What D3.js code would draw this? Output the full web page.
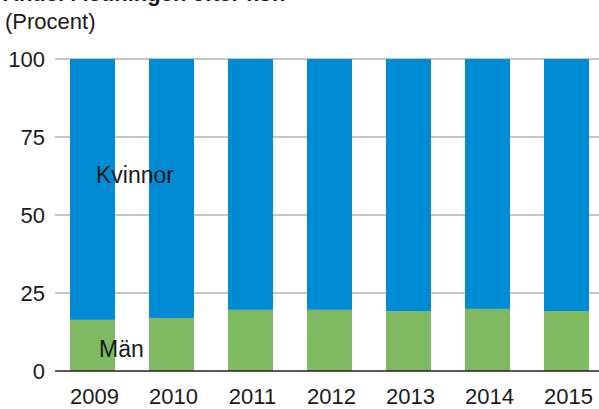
<!DOCTYPE html>
<html><head><meta charset="utf-8">
<script src="https://cdn.jsdelivr.net/npm/d3@7"></script>
<style>
body{margin:0;background:#fff;}
svg{display:block;font-family:"Liberation Sans",Arial,sans-serif;}
</style></head>
<body>
<svg id="chart" width="599" height="409"></svg>
<script>
const years = ["2009","2010","2011","2012","2013","2014","2015"];
const man = [16.4, 17.0, 19.6, 19.6, 19.2, 19.9, 19.2];
const kvinnor = [83.6, 83.0, 80.4, 80.4, 80.8, 80.1, 80.8];
const yTicks = [0, 25, 50, 75, 100];
const seriesNames = ["Män", "Kvinnor"];
const colors = ["#7fb961", "#008cd4"];

const svg = d3.select("#chart");
const x = d3.scaleBand().domain(years).range([53, 606]).paddingInner(34/79).paddingOuter(17/79);
const y = d3.scaleLinear().domain([0, 100]).range([371, 59]);

// title (cut off at top, as in the reference)
svg.append("text").attr("x", 3).attr("y", 1).attr("font-weight", "bold").attr("font-size", 22)
  .attr("fill", "#1a1a1a").text("Andel i ledningen efter kön");
svg.append("text").attr("x", 5).attr("y", 29).attr("font-size", 22).attr("fill", "#1a1a1a").text("(Procent)");

// grid
svg.append("g").selectAll("line").data(yTicks.filter(d => d > 0)).join("line")
  .attr("x1", 55).attr("x2", 599).attr("y1", d => y(d)).attr("y2", d => y(d))
  .attr("stroke", "#8c8c8c").attr("stroke-width", 1.2);

// y axis labels
const yAxis = d3.axisLeft(y).tickValues(yTicks).tickSize(0).tickPadding(0);
const ya = svg.append("g").attr("transform", "translate(45,0)").call(yAxis);
ya.select(".domain").remove();
ya.selectAll("text").attr("font-size", 22).attr("fill", "#1a1a1a")
  .attr("font-family", "Liberation Sans, Arial, sans-serif").attr("dy", "0.36em");

const data = years.map((yr, i) => ({year: yr, "Män": man[i], "Kvinnor": kvinnor[i]}));
const stack = d3.stack().keys(seriesNames)(data);
svg.append("g").selectAll("g").data(stack).join("g")
  .attr("fill", (d, i) => colors[i])
  .selectAll("rect").data(d => d).join("rect")
  .attr("x", d => x(d.data.year)).attr("width", x.bandwidth())
  .attr("y", d => y(d[1])).attr("height", d => y(d[0]) - y(d[1]));

// zero axis line
svg.append("line").attr("x1", 55).attr("x2", 599).attr("y1", y(0)).attr("y2", y(0))
  .attr("stroke", "#222").attr("stroke-width", 1.5);

// x axis labels
const xAxis = d3.axisBottom(x).tickSize(0).tickPadding(0);
const xa = svg.append("g").attr("transform", "translate(2,404)").call(xAxis);
xa.select(".domain").remove();
xa.selectAll("text").attr("font-size", 22).attr("fill", "#1a1a1a")
  .attr("font-family", "Liberation Sans, Arial, sans-serif").attr("dy", 0);

// series labels
svg.append("text").attr("x", 96).attr("y", 183).attr("font-size", 23).attr("fill", "#1a1a1a").text("Kvinnor");
svg.append("text").attr("x", 99).attr("y", 357).attr("font-size", 23).attr("fill", "#1a1a1a").text("Män");
</script>
</body></html>
